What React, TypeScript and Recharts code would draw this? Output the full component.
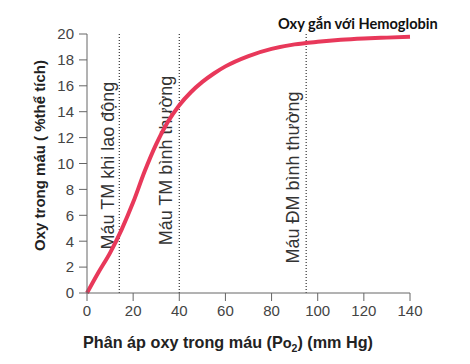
import { LineChart, Line, XAxis, YAxis, ReferenceLine, Label } from "recharts"

// Po2 (mm Hg) and O2 content (% volume)
const po2 = [0, 5, 10, 15, 20, 25, 30, 35, 40, 45, 50, 55, 60, 70, 80, 90, 100, 110, 120, 130, 140]
const oxy = [0, 1.6, 3.1, 4.9, 7.0, 9.4, 11.5, 13.2, 14.5, 15.5, 16.3, 16.95, 17.5, 18.3, 18.85, 19.2, 19.4, 19.55, 19.65, 19.72, 19.78]

const xTicks = [0, 20, 40, 60, 80, 100, 120, 140]
const yTicks = [0, 2, 4, 6, 8, 10, 12, 14, 16, 18, 20]

// marker lines: position and text
const markers = [
  { x: 14, text: "Máu TM khi lao động", dx: -11, dy: 2 },
  { x: 40, text: "Máu TM bình thường", dx: -13, dy: -3 },
  { x: 95, text: "Máu ĐM bình thường", dx: -13, dy: 14 }
]

const data = po2.map((p, i) => ({ p, o: oxy[i] }))

const font = "Arial, 'Liberation Sans', sans-serif"

export default function App() {
  return (
    <div style={{ position: "absolute", left: 0, top: 0, width: 470, height: 364, background: "#fff" }}>
      <div
        style={{
          position: "absolute",
          left: 278,
          top: 15,
          fontFamily: "Lato, sans-serif",
          fontWeight: 700,
          fontSize: 14.6,
          color: "#111"
        }}
      >
        Oxy gắn với Hemoglobin
      </div>
      <LineChart width={470} height={364} data={data} margin={{ top: 34, right: 60, bottom: 41, left: 0 }}>
        <XAxis
          dataKey="p"
          type="number"
          domain={[0, 140]}
          ticks={xTicks}
          tickSize={8}
          tickMargin={4}
          stroke="#666"
          tick={{ fill: "#444", fontSize: 15, fontFamily: font }}
          height={30}
        >
          <Label
            content={(props: any) => {
              const vb = props.viewBox
              return (
                <text
                  x={vb.x + 141}
                  y={348}
                  textAnchor="middle"
                  fontFamily={font}
                  fontWeight={700}
                  fontSize={16.2}
                  fill="#222"
                >
                  Phân áp oxy trong máu (P
                  <tspan fontSize={14.5}>o</tspan>
                  <tspan fontSize={10.5} dy={4}>2</tspan>
                  <tspan dy={-4}>) (mm Hg)</tspan>
                </text>
              )
            }}
          />
        </XAxis>
        <YAxis
          type="number"
          domain={[0, 20]}
          ticks={yTicks}
          width={87}
          tickSize={8}
          tickMargin={5}
          stroke="#666"
          tick={{ fill: "#444", fontSize: 15, fontFamily: font }}
        >
          <Label
            content={(props: any) => {
              const vb = props.viewBox
              const cx = vb.x + 39
              const cy = vb.y + vb.height / 2 - 8
              return (
                <text
                  x={cx}
                  y={cy}
                  transform={`rotate(-90 ${cx} ${cy})`}
                  textAnchor="middle"
                  dominantBaseline="central"
                  fontFamily={font}
                  fontWeight={700}
                  fontSize={15}
                  fill="#222"
                >
                  Oxy trong máu ( %thể tích)
                </text>
              )
            }}
          />
        </YAxis>
        {markers.map((m) => (
          <ReferenceLine
            key={m.x}
            x={m.x}
            stroke="#333"
            strokeWidth={1.2}
            strokeDasharray="1 2"
            label={{
              content: (props: any) => {
                const vb = props.viewBox
                const cx = vb.x + m.dx
                const cy = vb.y + vb.height / 2 + m.dy
                return (
                  <text
                    x={cx}
                    y={cy}
                    transform={`rotate(-90 ${cx} ${cy})`}
                    textAnchor="middle"
                    dominantBaseline="central"
                    fontFamily={font}
                    fontSize={18}
                    fill="#333"
                  >
                    {m.text}
                  </text>
                )
              }
            }}
          />
        ))}
        <Line
          dataKey="o"
          type="monotone"
          stroke="#e8385a"
          strokeWidth={4}
          dot={false}
          isAnimationActive={false}
        />
      </LineChart>
    </div>
  )
}
